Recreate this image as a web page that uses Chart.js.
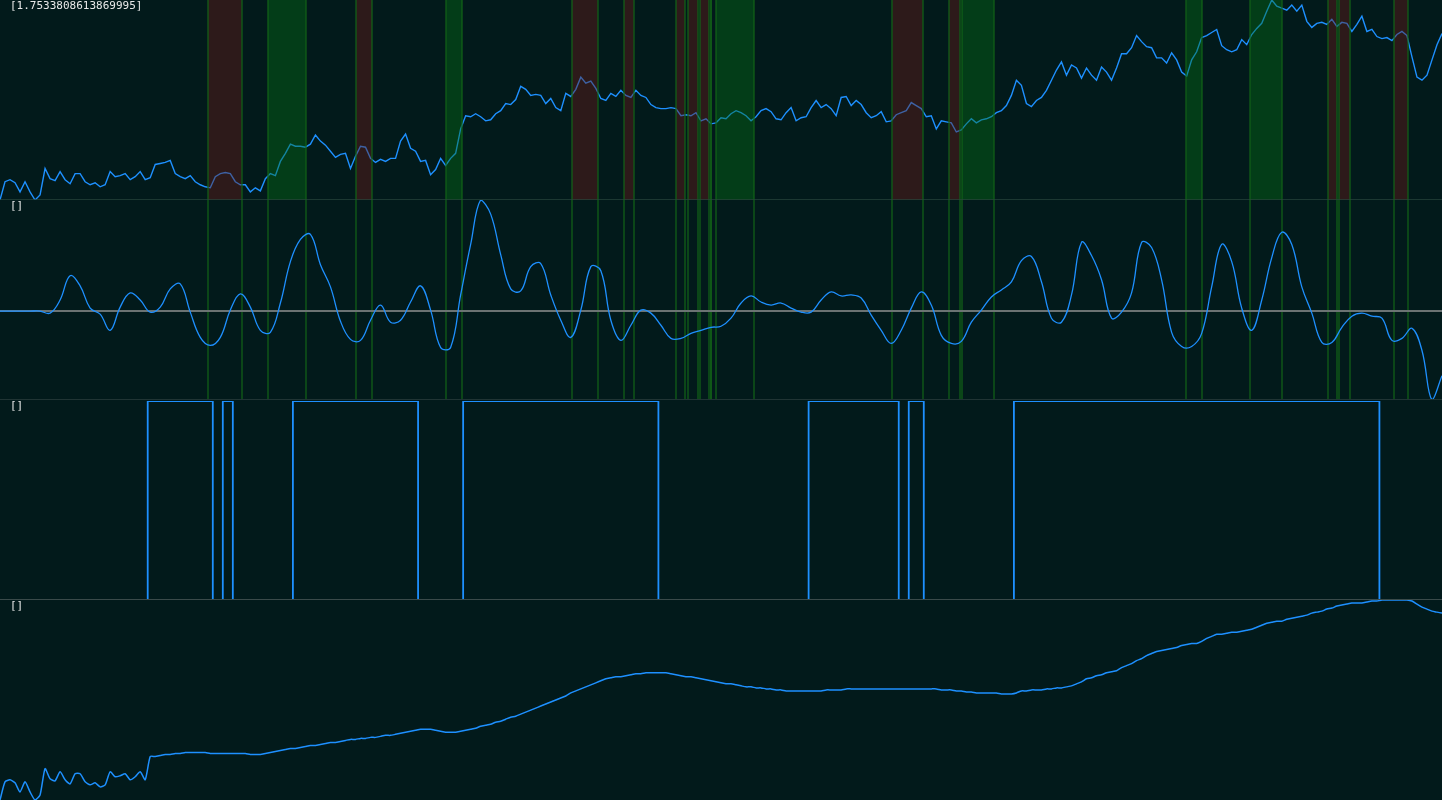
<!DOCTYPE html>
<html><head><meta charset="utf-8">
<script src="https://cdn.jsdelivr.net/npm/chart.js@4.4.1/dist/chart.umd.js"></script>
<style>
html,body{margin:0;padding:0;background:#021a1b;overflow:hidden}
.panel{position:relative;width:1442px;height:200px}
.panel canvas{position:absolute;left:0;top:0}
.lbl{position:absolute;left:10px;top:0;font:11px/11px "DejaVu Sans Mono",monospace;color:#e8e8e8;white-space:pre;z-index:2;pointer-events:none}
</style></head><body>
<div class="panel"><canvas id="c1" width="1442" height="200"></canvas><div class="lbl" id="l1"></div></div>
<div class="panel"><canvas id="c2" width="1442" height="200"></canvas><div class="lbl" id="l2"></div></div>
<div class="panel"><canvas id="c3" width="1442" height="200"></canvas><div class="lbl" id="l3"></div></div>
<div class="panel"><canvas id="c4" width="1442" height="200"></canvas><div class="lbl" id="l4"></div></div>
<script>
// ---- data ----
const panelLabels = ['[1.7533808613869995]', '[]', '[]', '[]'];

// price, one value per time step
const price = [
  2,20,22,19,10,20,10,2,7,33,
  23,21,30,22,18,28,28,20,17,19,
  15,17,30,25,26,28,22,25,30,22,
  24,37,38,39,41,28,25,23,26,20,
  17,15,14,25,28,29,28,20,17,17,
  10,14,11,23,28,26,40,48,57,55,
  55,54,57,66,60,56,50,44,47,48,
  33,45,55,54,43,39,42,40,43,43,
  60,67,53,50,40,41,27,32,43,36,
  43,48,72,85,84,87,84,80,81,87,
  90,97,96,101,114,111,105,106,105,97,
  102,93,90,107,104,111,123,117,119,112,
  102,100,107,104,110,105,103,110,105,103,
  96,93,92,92,93,92,85,86,85,88,
  80,82,77,78,83,82,87,90,88,85,
  80,84,90,92,89,82,81,88,93,80,
  83,84,93,100,93,96,92,85,103,104,
  95,100,96,88,83,85,89,79,80,86,
  88,90,98,95,92,84,85,72,80,79,
  78,69,71,77,82,78,81,82,84,88,
  90,95,105,120,115,97,94,100,103,110,
  120,130,138,125,135,132,122,132,125,120,
  133,128,120,132,146,146,152,164,158,153,
  152,142,142,137,147,140,128,124,140,148,
  162,164,167,170,154,150,148,150,160,155,
  165,171,176,188,199,193,191,189,194,188,
  194,178,172,176,177,175,180,173,177,176,
  168,175,183,168,170,163,161,162,159,165,
  168,164,143,123,120,125,140,155,166
];

// oscillator, one value every 2 time steps
const oscStep = 2;
const oscillator = [
  0,0,0,0,0,-2,11,35,25,3,
  -3,-19,4,18,11,-1,4,22,27,-1,
  -26,-34,-26,1,17,4,-19,-21,8,49,
  71,76,46,24,-10,-28,-29,-9,6,-11,
  -9,9,25,1,-36,-36,16,66,110,96,
  56,22,20,44,47,16,-9,-26,1,44,
  40,-9,-29,-14,1,-2,-14,-27,-27,-22,
  -19,-16,-15,-7,8,15,9,6,8,3,
  -1,-1,11,19,15,16,13,-4,-19,-32,
  -19,3,19,6,-24,-32,-30,-11,1,14,
  21,29,50,54,29,-7,-11,16,68,55,
  31,-7,-1,18,68,63,31,-21,-35,-35,
  -22,24,66,49,3,-19,11,53,78,66,
  24,-2,-31,-31,-16,-5,-2,-5,-7,-29,
  -27,-17,-39,-88,-64
];

// position signal (0 = flat, 1 = long), one value per time step
const position = [
  0,0,0,0,0,0,0,0,0,0,
  0,0,0,0,0,0,0,0,0,0,
  0,0,0,0,0,0,0,0,0,0,
  1,1,1,1,1,1,1,1,1,1,
  1,1,1,0,0,1,1,0,0,0,
  0,0,0,0,0,0,0,0,0,1,
  1,1,1,1,1,1,1,1,1,1,
  1,1,1,1,1,1,1,1,1,1,
  1,1,1,1,0,0,0,0,0,0,
  0,0,0,1,1,1,1,1,1,1,
  1,1,1,1,1,1,1,1,1,1,
  1,1,1,1,1,1,1,1,1,1,
  1,1,1,1,1,1,1,1,1,1,
  1,1,0,0,0,0,0,0,0,0,
  0,0,0,0,0,0,0,0,0,0,
  0,0,0,0,0,0,0,0,0,0,
  0,0,1,1,1,1,1,1,1,1,
  1,1,1,1,1,1,1,1,1,1,
  0,0,1,1,1,0,0,0,0,0,
  0,0,0,0,0,0,0,0,0,0,
  0,0,0,1,1,1,1,1,1,1,
  1,1,1,1,1,1,1,1,1,1,
  1,1,1,1,1,1,1,1,1,1,
  1,1,1,1,1,1,1,1,1,1,
  1,1,1,1,1,1,1,1,1,1,
  1,1,1,1,1,1,1,1,1,1,
  1,1,1,1,1,1,1,1,1,1,
  1,1,1,1,1,1,0,0,0,0,
  0,0,0,0,0,0,0,0,0
];

// equity curve, one value per time step
const equity = [
  2,20,22,19,10,20,10,2,7,33,
  23,21,30,22,18,28,28,20,17,19,
  15,17,30,25,26,28,22,25,30,22,
  45,45,46,47,47,48,48,49,49,49,
  49,49,48,48,48,48,48,48,48,48,
  47,47,47,48,49,50,51,52,53,53,
  54,55,56,56,57,58,59,59,60,61,
  62,62,63,63,64,64,65,66,66,67,
  68,69,70,71,72,72,72,71,70,69,
  69,69,70,71,72,73,75,76,77,79,
  80,82,84,85,87,89,91,93,95,97,
  99,101,103,105,108,110,112,114,116,118,
  120,122,123,124,124,125,126,127,127,128,
  128,128,128,128,127,126,125,124,124,123,
  122,121,120,119,118,117,117,116,115,114,
  114,113,113,112,112,111,111,110,110,110,
  110,110,110,110,110,111,111,111,111,112,
  112,112,112,112,112,112,112,112,112,112,
  112,112,112,112,112,112,112,112,111,111,
  111,110,110,109,109,108,108,108,108,108,
  107,107,107,108,110,110,111,111,111,112,
  112,113,113,114,115,117,119,122,123,125,
  126,128,129,130,133,135,137,140,142,145,
  147,149,150,151,152,153,155,156,157,157,
  159,162,164,166,166,167,168,168,169,170,
  171,173,175,177,178,179,179,181,182,183,
  184,185,187,188,189,191,192,194,195,196,
  197,197,197,198,199,199,200,200,200,200,
  200,200,199,196,193,191,189,188,187
];

// signal bands (time-step units)
const bandStart = [41.5, 53.5, 71.1, 89.1, 114.2, 124.6, 135.0, 137.4, 139.8, 142.0, 143.0, 178.2, 189.5, 192.1, 236.9, 249.7, 265.2, 267.4, 278.4];
const bandEnd   = [48.3, 61.1, 74.3, 92.3, 119.4, 126.6, 136.8, 139.4, 141.6, 142.0, 150.6, 184.3, 191.7, 198.5, 240.1, 256.0, 267.0, 269.6, 281.2];
const bandSide  = ['sell','buy','sell','buy','sell','sell','sell','sell','sell','sell','buy','sell','sell','buy','buy','buy','sell','sell','sell'];

// ---- styles ----
const LINE = '#1e90ff';
const RED_FILL = 'rgba(110,27,24,0.4)';
const GREEN_FILL = 'rgba(4,115,20,0.4)';
const EDGE = 'rgba(18,100,24,0.6)';

panelLabels.forEach((t, i) => { document.getElementById('l' + (i + 1)).textContent = t; });

const lastT = price.length - 1;

function bandsPlugin(over) {
  const hook = over ? 'afterDatasetsDraw' : 'beforeDatasetsDraw';
  return {
    id: 'bands',
    [hook](chart) {
      const {ctx, scales: {x}, height} = chart;
      ctx.save();
      if (over) {
        for (let k = 0; k < bandStart.length; k++) {
          const a = x.getPixelForValue(bandStart[k]);
          const b = x.getPixelForValue(bandEnd[k]);
          ctx.fillStyle = bandSide[k] === 'buy' ? GREEN_FILL : RED_FILL;
          ctx.fillRect(a, 0, b - a, height);
        }
      }
      ctx.strokeStyle = EDGE;
      ctx.lineWidth = 2;
      const edges = bandStart.concat(bandEnd);
      for (const t of edges) {
        const p = Math.round(x.getPixelForValue(t));
        ctx.beginPath();
        ctx.moveTo(p, 0);
        ctx.lineTo(p, height);
        ctx.stroke();
      }
      ctx.restore();
    }
  };
}
const zeroPlugin = {
  id: 'zero',
  beforeDatasetsDraw(chart) {
    const {ctx, scales: {y}, width} = chart;
    const p = y.getPixelForValue(0);
    ctx.save();
    ctx.strokeStyle = '#6b7373';
    ctx.lineWidth = 2;
    ctx.beginPath(); ctx.moveTo(0, p); ctx.lineTo(width, p); ctx.stroke();
    ctx.restore();
  }
};
function dividerPlugin(color) {
  return {
    id: 'divider',
    afterDraw(chart) {
      const {ctx, width, height} = chart;
      ctx.save();
      ctx.fillStyle = color;
      ctx.fillRect(0, height - 1, width, 1);
      ctx.restore();
    }
  };
}

function makeChart(id, data, step, opts, plugins, padTop) {
  const vals = data;
  return new Chart(document.getElementById(id), {
    type: 'line',
    data: {
      datasets: [Object.assign({
        data: vals.map((v, i) => ({x: i * step, y: v})),
        borderColor: LINE,
        borderWidth: 1.5,
        pointRadius: 0,
        fill: false,
        tension: 0
      }, opts)]
    },
    options: {
      responsive: false,
      animation: false,
      devicePixelRatio: 1,
      events: [],
      layout: {padding: {top: padTop || 0, left: 0, right: 0, bottom: 0}},
      plugins: {legend: {display: false}, tooltip: {enabled: false}},
      scales: {
        x: {type: 'linear', min: 0, max: lastT, display: false},
        y: {min: Math.min(...vals), max: Math.max(...vals), display: false}
      }
    },
    plugins: plugins
  });
}

makeChart('c1', price, 1, {borderWidth: 1.4}, [bandsPlugin(true), dividerPlugin('rgba(40,70,60,0.7)')], 0);
makeChart('c2', oscillator, oscStep, {borderWidth: 1.3, tension: 0.4}, [bandsPlugin(false), zeroPlugin, dividerPlugin('#203434')], 0);
makeChart('c3', position, 1, {stepped: 'middle', borderWidth: 1.8}, [dividerPlugin('#3a4a4a')], 1);
makeChart('c4', equity, 1, {tension: 0.2}, [], 0);
</script>
</body></html>
